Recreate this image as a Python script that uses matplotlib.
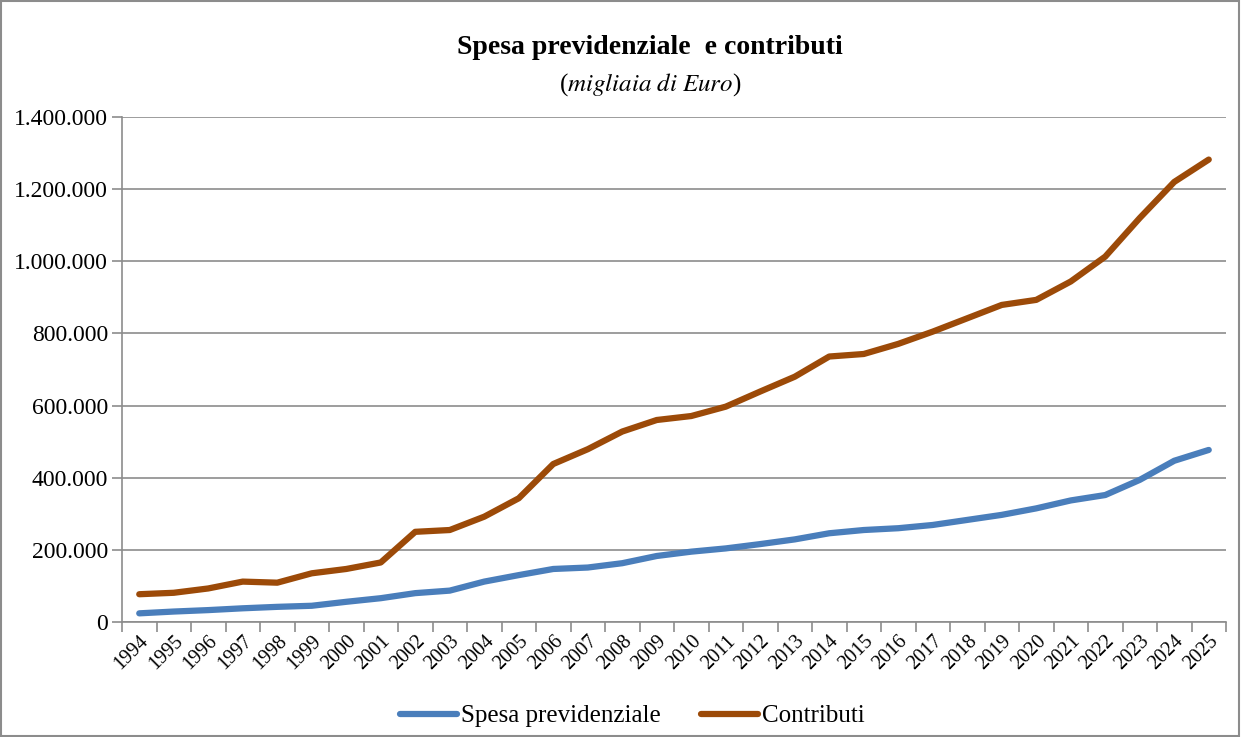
import matplotlib.pyplot as plt
from matplotlib.ticker import FuncFormatter
from matplotlib.patches import Rectangle

years = list(range(1994, 2026))

# migliaia di Euro
spesa = [24000, 29000, 33000, 38000, 42000, 45000, 56000, 66000, 80000, 87000,
         112000, 130000, 147000, 151000, 163000, 183000, 195000, 204000, 216000,
         229000, 246000, 255000, 260000, 269000, 283000, 297000, 315000, 337000,
         352000, 394000, 447000, 477000]
contributi = [77000, 81000, 93000, 112000, 109000, 135000, 147000, 165000,
              250000, 255000, 292000, 343000, 438000, 479000, 528000, 560000,
              571000, 597000, 639000, 680000, 736000, 743000, 771000, 805000,
              842000, 879000, 893000, 944000, 1013000, 1120000, 1220000, 1282000]

plt.rcParams['font.family'] = ['Liberation Serif', 'DejaVu Serif']

fig = plt.figure(figsize=(12.41, 7.37), dpi=100)
ax = fig.add_axes([122 / 1241, 1 - 622 / 737, 1104 / 1241, 505 / 737])

x = list(range(len(years)))
ax.plot(x, spesa, color='#4A7EBB', lw=4.5, solid_capstyle='round', label='Spesa previdenziale')
ax.plot(x, contributi, color='#9C4A08', lw=4.5, solid_capstyle='round', label='Contributi')

ax.set_xlim(-0.5, len(years) - 0.5)
ax.set_ylim(0, 1400000)
ax.set_yticks(range(0, 1400001, 200000))
ax.yaxis.set_major_formatter(FuncFormatter(lambda v, p: f'{int(v):,}'.replace(',', '.')))
ax.grid(axis='y', color='#8c8c8c', lw=1.2)
ax.set_axisbelow(True)

# category ticks between years
ax.set_xticks([i - 0.5 for i in range(len(years) + 1)], minor=False)
ax.set_xticklabels([])
ax.set_xticks(x, minor=True)
ax.set_xticklabels([str(y) for y in years], minor=True, rotation=45,
                   ha='right', va='top', rotation_mode='anchor', fontsize=14.5)
ax.tick_params(axis='x', which='minor', length=0, pad=7)
ax.tick_params(axis='x', which='major', length=7, color='#8c8c8c', width=1.2)
ax.tick_params(axis='y', length=7, color='#8c8c8c', width=1.2, labelsize=17, pad=3)

for s in ['top', 'right']:
    ax.spines[s].set_visible(False)
ax.spines['left'].set_color('#8c8c8c')
ax.spines['bottom'].set_color('#8c8c8c')
ax.spines['left'].set_linewidth(1.2)
ax.spines['bottom'].set_linewidth(1.2)

fig.text(650 / 1241, 1 - 48 / 737, 'Spesa previdenziale  e contributi', ha='center', va='center',
         fontsize=20, fontweight='bold')
fig.text(650 / 1241, 1 - 85 / 737, '($\\it{migliaia\\ di\\ Euro}$)', ha='center', va='center',
         fontsize=18, math_fontfamily='stix')

fig.legend(loc='center', bbox_to_anchor=(632 / 1241, 1 - 716 / 737), ncol=2, frameon=False,
           fontsize=18, handlelength=2.3, handletextpad=0.15, columnspacing=1.6)

fig.patches.append(Rectangle((0.001, 0.001), 0.997, 0.997, transform=fig.transFigure,
                             fill=False, edgecolor='#8c8c8c', lw=1.5))

fig.savefig('out.png', dpi=100)
